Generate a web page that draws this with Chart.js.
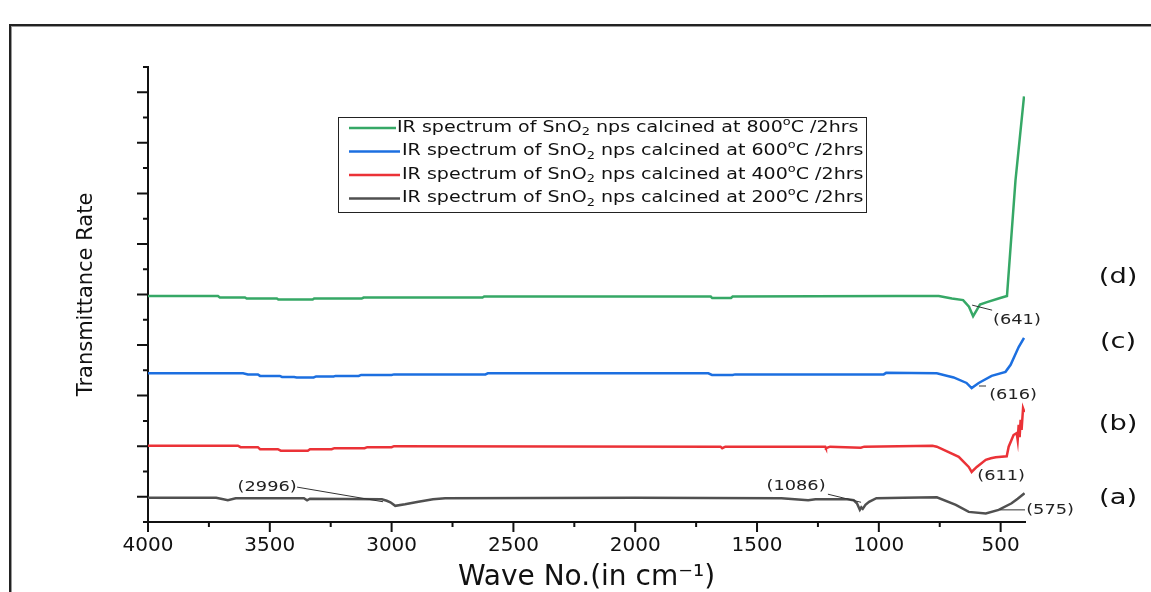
<!DOCTYPE html>
<html>
<head>
<meta charset="utf-8">
<script src="https://cdn.jsdelivr.net/npm/chart.js@4.4.1/dist/chart.umd.min.js"></script>
<style>
  html, body { margin: 0; padding: 0; background: #fff; overflow: hidden; }
  #wrap { position: relative; width: 1151px; height: 592px; overflow: hidden; }
  #frame { position: absolute; left: 9px; top: 24px; width: 1200px; height: 620px;
           border: 2px solid #222; box-shadow: inset 1px 1px 0 #999; }
  #chart { position: absolute; left: 0; top: 0; }
</style>
</head>
<body>
<div id="wrap">
  <div id="frame"></div>
  <canvas id="chart" width="1151" height="592"></canvas>
</div>
<script>
// x tick labels (wave number, cm-1) and y tick positions (no labels shown)
const xTickLabels = [4000, 3500, 3000, 2500, 2000, 1500, 1000, 500];
const yMajorTicks = [0, 1, 2, 3, 4, 5, 6, 7, 8];

// (a) 200 C
const waveA = [4000, 3720, 3672, 3640, 3360, 3347, 3335, 3040, 3020, 3005, 2985, 2945, 2890, 2830, 2780, 2000,
  1400, 1290, 1260, 1130, 1103, 1090, 1078, 1072, 1066, 1055, 1040, 1010, 900, 762, 684, 631, 561, 508, 455, 430, 402];
const transA = [-0.02, -0.02, -0.07, -0.03, -0.03, -0.07, -0.04, -0.05, -0.08, -0.11, -0.18, -0.15, -0.10, -0.05, -0.03, -0.02,
  -0.03, -0.07, -0.05, -0.05, -0.07, -0.13, -0.26, -0.21, -0.24, -0.16, -0.10, -0.03, -0.02, -0.01, -0.16, -0.30, -0.33, -0.26, -0.13, -0.04, 0.07];

// (b) 400 C
const waveB = [4000, 3631, 3620, 3549, 3540, 3467, 3455, 3344, 3335, 3246, 3235, 3111, 3100, 3000, 2990, 1650, 1643, 1630,
  1220, 1217, 1200, 1074, 1060, 780, 762, 672, 631, 619, 598, 561, 540, 520, 475, 467, 447, 434, 430, 426, 422, 418, 414, 408, 402];
const transB = [1.01, 1.01, 0.98, 0.98, 0.94, 0.94, 0.91, 0.91, 0.94, 0.94, 0.96, 0.96, 0.98, 0.98, 1.00, 0.99, 0.96, 0.99,
  0.99, 0.96, 0.99, 0.97, 0.99, 1.01, 0.99, 0.79, 0.59, 0.49, 0.59, 0.73, 0.76, 0.78, 0.80, 0.99, 1.22, 1.26, 1.12, 1.42, 1.18, 1.52, 1.32, 1.75, 1.67];

// (c) 600 C
const waveC = [4000, 3610, 3590, 3549, 3540, 3459, 3450, 3400, 3390, 3320, 3310, 3238, 3230, 3135, 3125, 3000, 2990, 2615,
  2605, 1700, 1685, 1600, 1590, 980, 970, 762, 693, 640, 619, 590, 537, 480, 459, 426, 404];
const transC = [2.44, 2.44, 2.42, 2.42, 2.39, 2.39, 2.37, 2.37, 2.36, 2.36, 2.38, 2.38, 2.39, 2.39, 2.41, 2.41, 2.42, 2.42,
  2.44, 2.44, 2.41, 2.41, 2.42, 2.42, 2.45, 2.44, 2.36, 2.25, 2.15, 2.25, 2.39, 2.47, 2.61, 2.96, 3.14];

// (d) 800 C
const waveD = [4000, 3713, 3705, 3602, 3595, 3471, 3465, 3324, 3318, 3123, 3115, 2627, 2620, 1690, 1684, 1607, 1600,
  930, 754, 700, 654, 630, 613, 597, 585, 556, 502, 474, 439, 404];
const transD = [3.97, 3.97, 3.94, 3.94, 3.92, 3.92, 3.90, 3.90, 3.92, 3.92, 3.94, 3.94, 3.96, 3.96, 3.93, 3.93, 3.96,
  3.97, 3.97, 3.92, 3.89, 3.76, 3.57, 3.70, 3.80, 3.85, 3.93, 3.97, 6.26, 7.92];

const legendTemps = [800, 600, 400, 200];
const seriesTags = ['(a)', '(b)', '(c)', '(d)'];

// peak labels, placed in data units: text centre, leader line from/to
const peakNotes = [
  { text: '(2996)', x: 3511, y: 0.19, from: [3388, 0.19], to: [3035, -0.10] },
  { text: '(1086)', x: 1340, y: 0.21, from: [1209, 0.05], to: [1073, -0.11] },
  { text: '(641)', x: 433, y: 3.49, from: [617, 3.79], to: [535, 3.69] },
  { text: '(616)', x: 449, y: 2.01, from: [589, 2.19], to: [560, 2.19] },
  { text: '(611)', x: 498, y: 0.40 },
  { text: '(575)', x: 297, y: -0.26, from: [502, -0.26], to: [400, -0.26] }
];
const tagSpots = [[18, -0.03], [18, 1.42], [18, 3.04], [18, 4.34]];

const colors = { a: '#505050', b: '#eb3237', c: '#1c6fe0', d: '#36a866' };
const FONT = '"DejaVu Sans", sans-serif';

const toPoints = (w, t) => w.map((v, i) => ({ x: v, y: t[i] }));

function drawRich(ctx, parts, x, y, size, sx, align) {
    ctx.save();
    ctx.textBaseline = 'middle';
    ctx.textAlign = 'left';
    const fontFor = p => ((p.sub || p.sup) ? size * 0.68 : size) + 'px ' + FONT;
    let total = 0;
    parts.forEach(p => { ctx.font = fontFor(p); total += ctx.measureText(p.t).width; });
    ctx.translate(x, y);
    ctx.scale(sx, 1);
    let cx = align === 'center' ? -total / 2 : 0;
    parts.forEach(p => {
        ctx.font = fontFor(p);
        const dy = p.sub ? size * 0.32 : (p.sup ? -size * 0.38 : 0);
        ctx.fillText(p.t, cx, dy);
        cx += ctx.measureText(p.t).width;
    });
    ctx.restore();
}

const overlay = {
    id: 'overlay',
    afterDraw(chart) {
        const { ctx, chartArea, scales: { x, y } } = chart;
        ctx.save();

        // tick marks, long at labels and short in between
        ctx.strokeStyle = '#111';
        ctx.lineWidth = 2;
        ctx.beginPath();
        xTickLabels.forEach((v, i) => {
            const px = x.getPixelForValue(v);
            ctx.moveTo(px, chartArea.bottom);
            ctx.lineTo(px, chartArea.bottom + 10);
            if (i < xTickLabels.length - 1) {
                const mx = x.getPixelForValue((v + xTickLabels[i + 1]) / 2);
                ctx.moveTo(mx, chartArea.bottom);
                ctx.lineTo(mx, chartArea.bottom + 5);
            }
        });
        yMajorTicks.forEach(v => {
            const py = y.getPixelForValue(v);
            ctx.moveTo(chartArea.left, py);
            ctx.lineTo(chartArea.left - 11, py);
            [v - 0.5, v + 0.5].forEach(m => {
                const my = y.getPixelForValue(m);
                ctx.moveTo(chartArea.left, my);
                ctx.lineTo(chartArea.left - 5, my);
            });
        });
        ctx.stroke();

        // peak labels with leader lines
        ctx.fillStyle = '#222';
        ctx.strokeStyle = '#333';
        ctx.lineWidth = 1;
        peakNotes.forEach(n => {
            if (n.from) {
                ctx.beginPath();
                ctx.moveTo(x.getPixelForValue(n.from[0]), y.getPixelForValue(n.from[1]));
                ctx.lineTo(x.getPixelForValue(n.to[0]), y.getPixelForValue(n.to[1]));
                ctx.stroke();
            }
            drawRich(ctx, [{ t: n.text }], x.getPixelForValue(n.x), y.getPixelForValue(n.y), 14, 1.27, 'center');
        });

        // series tags on the right
        ctx.fillStyle = '#111';
        seriesTags.forEach((t, i) => {
            drawRich(ctx, [{ t: t }], x.getPixelForValue(tagSpots[i][0]), y.getPixelForValue(tagSpots[i][1]), 21, 1.3, 'center');
        });

        // legend box inside the plot
        const lx = chartArea.left + 190, ly = chartArea.top + 50;
        const lw = 528, lh = 95;
        ctx.fillStyle = '#fff';
        ctx.fillRect(lx, ly, lw, lh);
        ctx.strokeStyle = '#222';
        ctx.lineWidth = 1;
        ctx.strokeRect(lx + 0.5, ly + 0.5, lw, lh);
        const legendColors = [colors.d, colors.c, colors.b, colors.a];
        legendTemps.forEach((temp, i) => {
            const ry = ly + 11 + i * 23.5;
            ctx.strokeStyle = legendColors[i];
            ctx.lineWidth = 2.5;
            ctx.beginPath();
            ctx.moveTo(lx + 11, ry);
            ctx.lineTo(lx + (i === 0 ? 58 : 62), ry);
            ctx.stroke();
            ctx.fillStyle = '#111';
            drawRich(ctx, [
                { t: 'IR spectrum of SnO' }, { t: '2', sub: true },
                { t: ' nps calcined at ' + temp }, { t: 'o', sup: true }, { t: 'C /2hrs' }
            ], lx + (i === 0 ? 59 : 64), ry, 15, 1.27, 'left');
        });

        ctx.restore();
    }
};

const lineStyle = { borderWidth: 2.5, pointRadius: 0, tension: 0, fill: false };

new Chart(document.getElementById('chart'), {
    type: 'line',
    data: {
        datasets: [
            { label: '200', data: toPoints(waveA, transA), borderColor: colors.a, ...lineStyle },
            { label: '400', data: toPoints(waveB, transB), borderColor: colors.b, ...lineStyle },
            { label: '600', data: toPoints(waveC, transC), borderColor: colors.c, ...lineStyle },
            { label: '800', data: toPoints(waveD, transD), borderColor: colors.d, ...lineStyle }
        ]
    },
    options: {
        responsive: false,
        animation: false,
        devicePixelRatio: 1,
        layout: { padding: { top: 67, right: 126, left: 0, bottom: 0 } },
        plugins: {
            legend: { display: false },
            tooltip: { enabled: false }
        },
        scales: {
            x: {
                type: 'linear',
                reverse: true,
                min: 400,
                max: 4000,
                afterBuildTicks: s => { s.ticks = xTickLabels.map(v => ({ value: v })); },
                afterFit: s => { s.height = 70; },
                grid: { display: false, drawTicks: false },
                border: { display: true, color: '#111', width: 2 },
                ticks: {
                    color: '#111',
                    font: { family: FONT, size: 20 },
                    padding: 12,
                    autoSkip: false,
                    maxRotation: 0,
                    callback: v => String(v)
                },
                title: {
                    display: true,
                    text: 'Wave No.(in cm\u207B\u00B9)',
                    color: '#111',
                    font: { family: FONT, size: 28, lineHeight: 1 },
                    padding: { top: 0, bottom: 0 }
                }
            },
            y: {
                min: -0.5,
                max: 8.5,
                afterBuildTicks: s => { s.ticks = yMajorTicks.map(v => ({ value: v })); },
                afterFit: s => { s.width = 148; },
                grid: { display: false, drawTicks: false },
                border: { display: true, color: '#111', width: 2 },
                ticks: { display: false },
                title: {
                    display: true,
                    text: 'Transmittance Rate',
                    color: '#111',
                    font: { family: FONT, size: 21 },
                    padding: { top: 74, bottom: 0 }
                }
            }
        }
    },
    plugins: [overlay]
});
</script>
</body>
</html>
